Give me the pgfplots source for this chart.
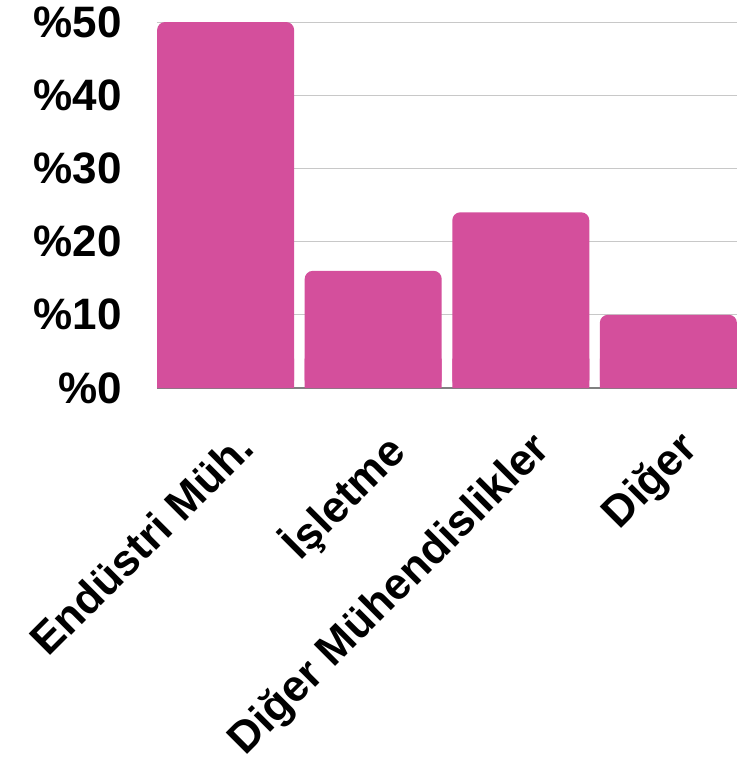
\documentclass[border=0pt]{standalone}
\usepackage{fontspec}
\setmainfont{Liberation Sans}
\usepackage{pgfplots}
\pgfplotsset{compat=1.18}
\definecolor{barpink}{HTML}{D44F9C}
\definecolor{gridgray}{HTML}{C8C8C8}

\begin{document}
\begin{tikzpicture}
\begin{axis}[
    scale only axis,
    width=435pt, height=274.5pt,
    xmin=-0.465, xmax=3.465,
    ymin=0, ymax=50,
    ytick={0,10,...,50},
    yticklabel={\%\pgfmathprintnumber{\tick}},
    xtick={0,1,2,3},
    xticklabels={Endüstri Müh., İşletme, Diğer Mühendislikler, Diğer},
    ymajorgrids,
    grid style={gridgray, line width=0.75pt},
    axis x line*=bottom, axis y line*=left,
    x axis line style={-, draw=gray, line width=1pt},
    y axis line style={draw=none},
    tick style={draw=none},
    tick label style={font=\fontsize{33}{39}\selectfont\bfseries},
    /pgf/number format/assume math mode=true,
    yticklabel style={xshift=-23pt},
    xticklabel style={xshift=6pt, yshift=-25pt, rotate=45, anchor=north east},
]
% bars, rounded at the top
\addplot[ybar, bar width=102.75pt, bar shift=0pt, fill=barpink, draw=none,
    rounded corners=6pt]
    coordinates {(0,50) (1,16) (2,24) (3,10)};
% square foot of each bar, so only the tops look rounded
\addplot[ybar, bar width=102.75pt, bar shift=0pt, fill=barpink, draw=none,
    forget plot]
    coordinates {(0,4) (1,4) (2,4) (3,4)};
\end{axis}
\pgfresetboundingbox
\path (-117.75pt,-279pt) rectangle (438.75pt,291pt);
\end{tikzpicture}
\end{document}
